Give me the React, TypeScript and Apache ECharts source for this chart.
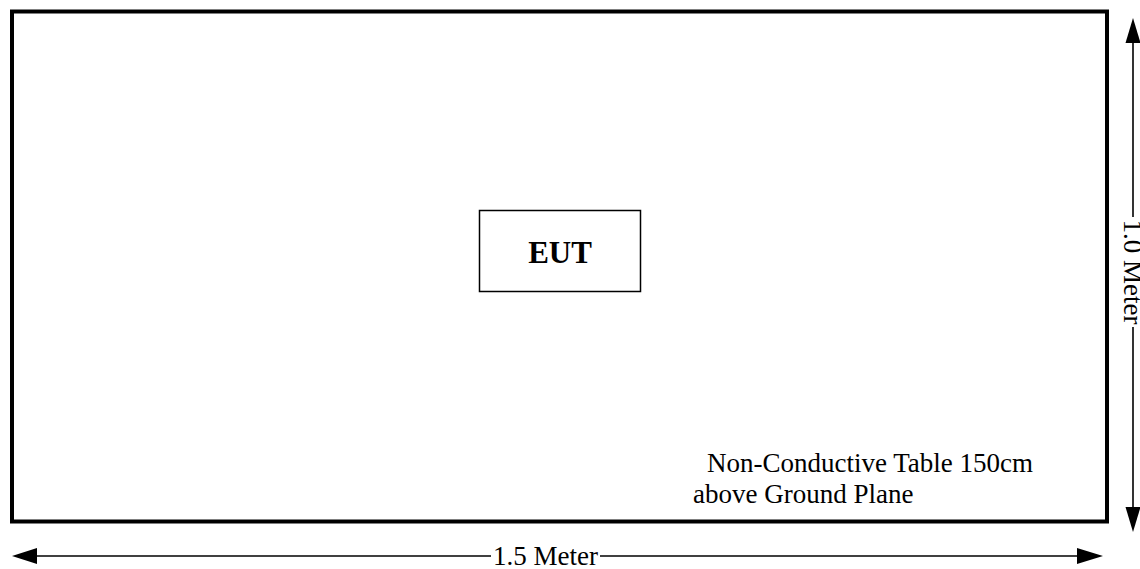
import React, { useEffect, useRef } from "react";
import * as echarts from "echarts";

const tableLabelLines = ["Non-Conductive Table 150cm", "above Ground Plane"];
const eutLabel = ["EUT"];
const widthLabel = ["1.5 Meter"];
const depthLabel = ["1.0 Meter"];

const FONT = "'Liberation Serif', 'Times New Roman', serif";

export default function App() {
  const ref = useRef<HTMLDivElement>(null);
  useEffect(() => {
    if (!ref.current) return;
    const chart = echarts.init(ref.current, undefined, { renderer: "svg" });
    const black = "#000";
    const thin = 1.6;
    const elements: any[] = [
      // table outline
      { type: "rect", shape: { x: 12, y: 11.5, width: 1095, height: 510 }, style: { fill: "none", stroke: black, lineWidth: 4 } },
      // EUT box
      { type: "rect", shape: { x: 479.5, y: 210.5, width: 161, height: 81 }, style: { fill: "none", stroke: black, lineWidth: 1.5 } },
      { type: "text", x: 560, y: 252, style: { text: eutLabel[0], font: `bold 31px ${FONT}`, fill: black, align: "center", verticalAlign: "middle" } },
      // table labels
      { type: "text", x: 707, y: 463, style: { text: tableLabelLines[0], font: `27px ${FONT}`, fill: black, align: "left", verticalAlign: "middle" } },
      { type: "text", x: 693, y: 494, style: { text: tableLabelLines[1], font: `27px ${FONT}`, fill: black, align: "left", verticalAlign: "middle" } },
      // horizontal dimension
      { type: "line", shape: { x1: 36, y1: 556, x2: 491, y2: 556 }, style: { stroke: black, lineWidth: thin } },
      { type: "line", shape: { x1: 600, y1: 556, x2: 1078, y2: 556 }, style: { stroke: black, lineWidth: thin } },
      { type: "polygon", shape: { points: [[12, 556], [37, 548], [37, 564]] }, style: { fill: black } },
      { type: "polygon", shape: { points: [[1103, 556], [1077, 548], [1077, 564]] }, style: { fill: black } },
      { type: "text", x: 545.5, y: 556, style: { text: widthLabel[0], font: `27px ${FONT}`, lineHeight: 24, fill: black, align: "center", verticalAlign: "middle" } },
      // vertical dimension
      { type: "line", shape: { x1: 1133, y1: 42, x2: 1133, y2: 217 }, style: { stroke: black, lineWidth: thin } },
      { type: "line", shape: { x1: 1133, y1: 327, x2: 1133, y2: 508 }, style: { stroke: black, lineWidth: thin } },
      { type: "polygon", shape: { points: [[1133, 18], [1125.5, 43], [1140.5, 43]] }, style: { fill: black } },
      { type: "polygon", shape: { points: [[1133, 532], [1125.5, 507], [1140.5, 507]] }, style: { fill: black } },
      { type: "text", x: 1133, y: 272, rotation: -Math.PI / 2, style: { text: depthLabel[0], font: `27px ${FONT}`, fill: black, align: "center", verticalAlign: "middle" } },
    ];
    chart.setOption({
      animation: false,
      backgroundColor: "#fff",
      graphic: { elements },
    });
    return () => chart.dispose();
  }, []);
  return <div ref={ref} style={{ position: "absolute", left: 0, top: 0, width: 1140, height: 569 }} />;
}
